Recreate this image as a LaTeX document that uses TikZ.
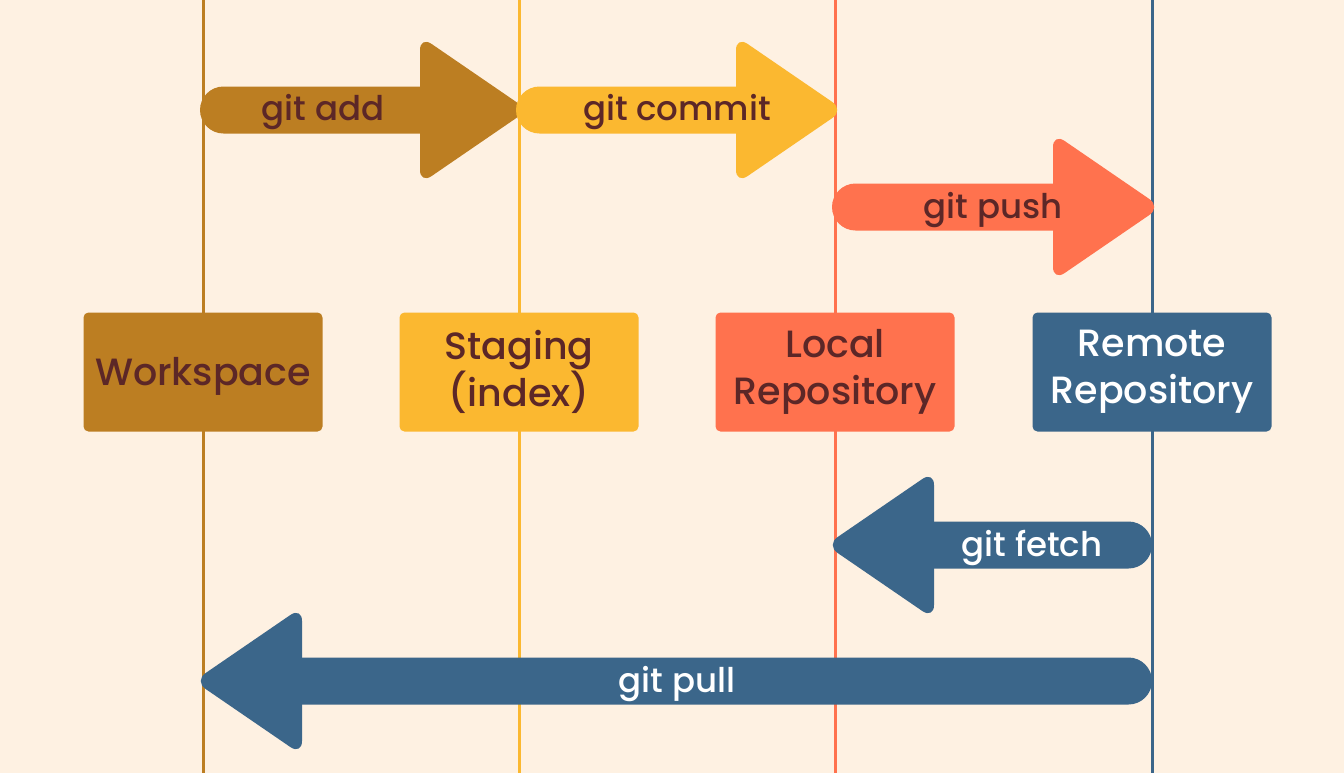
\documentclass[tikz,border=0pt]{standalone}
\usepackage{fontspec}
\setmainfont{Poppins}[UprightFont=*-Medium]
\usetikzlibrary{calc}
\definecolor{bg}{HTML}{FEF1E2}
\definecolor{wsbrown}{HTML}{BC7E22}
\definecolor{stgyellow}{HTML}{FBB830}
\definecolor{loccoral}{HTML}{FF724E}
\definecolor{remblue}{HTML}{3B668A}
\definecolor{txtdark}{HTML}{5C2727}
% block arrow: colour, start, tip
\newcommand{\rightblock}[3]{%
	\fill[#1, rounded corners=11.75pt] ($(#2)+(-3,-23.5)$) rectangle ($(#3)+(-60,23.5)$);
	\fill[#1, rounded corners=7pt] ($(#3)+(-99,-74)$) -- ($(#3)+(9,0)$) -- ($(#3)+(-99,74)$) -- cycle;
}
\newcommand{\leftblock}[3]{%
	\fill[#1, rounded corners=11.75pt] ($(#2)+(0,-23.5)$) rectangle ($(#3)+(60,23.5)$);
	\fill[#1, rounded corners=7pt] ($(#3)+(99,-74)$) -- ($(#3)+(-9,0)$) -- ($(#3)+(99,74)$) -- cycle;
}
\begin{document}
\begin{tikzpicture}[x=0.5pt, y=-0.5pt,
		stage/.style={rectangle, rounded corners=2.5pt, minimum width=119.5pt, minimum height=59.5pt, inner sep=0pt},
		stagetxt/.style={align=center, inner sep=0pt, font=\fontsize{19}{23.5}\selectfont},
		lbl/.style={anchor=base, inner sep=0pt, font=\fontsize{17}{20}\selectfont}]
	\useasboundingbox (0,0) rectangle (1344,773);
	\fill[bg] (0,0) rectangle (1344,773);
	
	%lanes
	\foreach \x/\c/\n in {203/wsbrown/ws, 519/stgyellow/stg, 835/loccoral/loc, 1152/remblue/rem}{
		\coordinate (\n-top) at (\x,0);
		\coordinate (\n-bot) at (\x,773);
		\draw[\c, line width=1.5pt] (\n-top) -- (\n-bot);
	}
	
	%stages
	\node[stage, fill=wsbrown] (workspace) at (203,372){};
	\node[stage, fill=stgyellow] (staging) at (519,372){};
	\node[stage, fill=loccoral] (local) at (835,372){};
	\node[stage, fill=remblue] (remote) at (1152,372){};
	\node[stagetxt, text=txtdark] at ($(workspace)+(0,4)$){Workspace};
	\node[stagetxt, text=txtdark] at (staging){Staging\\(index)};
	\node[stagetxt, text=txtdark] at (local){Local\\Repository};
	\node[stagetxt, text=white] at (remote){Remote\\Repository};
	
	%arrows
	\coordinate (add-s) at (203,110);
	\coordinate (add-t) at (519,110);
	\coordinate (commit-s) at (519,110);
	\coordinate (commit-t) at (835,110);
	\coordinate (push-s) at (835,207);
	\coordinate (push-t) at (1152,207);
	\coordinate (fetch-s) at (1152,545);
	\coordinate (fetch-t) at (835,545);
	\coordinate (pull-s) at (1152,681);
	\coordinate (pull-t) at (203,681);
	\rightblock{wsbrown}{add-s}{add-t}
	\rightblock{stgyellow}{commit-s}{commit-t}
	\rightblock{loccoral}{push-s}{push-t}
	\leftblock{remblue}{fetch-s}{fetch-t}
	\leftblock{remblue}{pull-s}{pull-t}
	\node[lbl, text=txtdark] (add) at (323,120){git add};
	\node[lbl, text=txtdark] (commit) at (677,120){git commit};
	\node[lbl, text=txtdark] (push) at (993,218){git push};
	\node[lbl, text=white] (fetch) at (1032,556){git fetch};
	\node[lbl, text=white] (pull) at (677,692){git pull};
\end{tikzpicture}
\end{document}
